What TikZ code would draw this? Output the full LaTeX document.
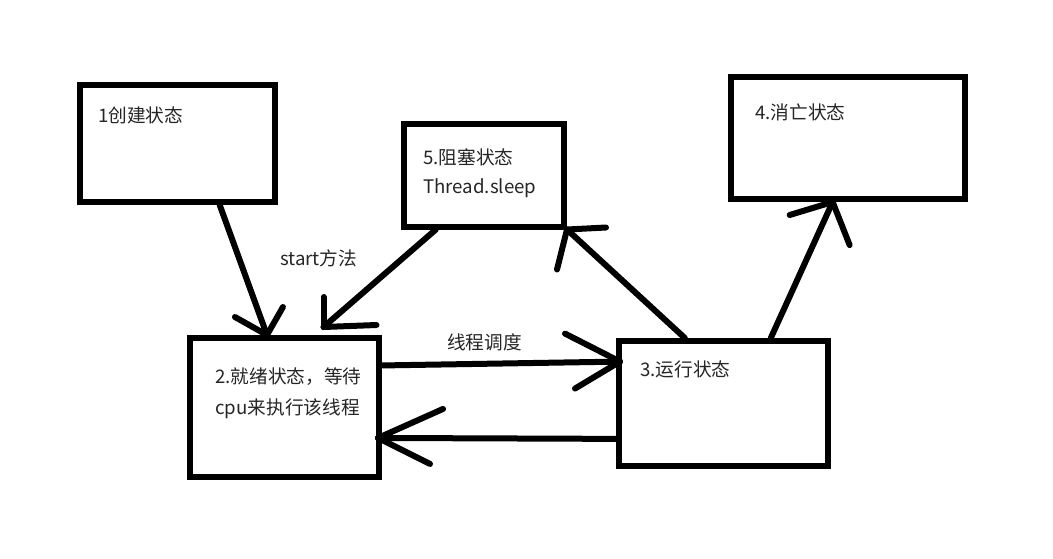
\documentclass[tikz,border=0pt]{standalone}
\usepackage{fontspec}
\setmainfont{Noto Sans CJK SC}
\usetikzlibrary{calc}
\begin{document}
\begin{tikzpicture}[x=0.75pt,y=-0.75pt,
  statebox/.style={draw=black,line width=4.5pt,inner sep=0pt,fill=white},
  conn/.style={draw=black,line width=4.5pt,line cap=round},
  lbl/.style={anchor=west,inner sep=0pt,text=black!85,font=\fontsize{14}{17}\selectfont}]
\useasboundingbox (0,0) rectangle (1053,558);
\fill[white] (0,0) rectangle (1053,558);
% boxes
\node[statebox,minimum width=195*0.75pt,minimum height=117*0.75pt] (b1) at (177.5,143.5) {};
\node[statebox,minimum width=160*0.75pt,minimum height=103*0.75pt] (b5) at (484,175) {};
\node[statebox,minimum width=234*0.75pt,minimum height=122*0.75pt] (b4) at (848,138) {};
\node[statebox,minimum width=189*0.75pt,minimum height=139*0.75pt] (b2) at (284.5,407.5) {};
\node[statebox,minimum width=209*0.75pt,minimum height=125*0.75pt] (b3) at (723.5,403.5) {};
% texts
\node[lbl] (l1) at (98,115) {1创建状态};
\node[lbl] (l5a) at (423,157) {5.阻塞状态};
\node[lbl] (l5b) at (423,188) {Thread.sleep};
\node[lbl] (l4) at (755,112) {4.消亡状态};
\node[lbl] (l2a) at (215,377) {2.就绪状态，等待};
\node[lbl] (l2b) at (215,409) {cpu来执行该线程};
\node[lbl] (l3) at (640,369) {3.运行状态};
\node[lbl] (ls) at (280,258) {start方法};
\node[lbl] (ld) at (447,342) {线程调度};
% connector ends
\coordinate (s1) at ($(b1.south west)!0.71!(b1.south east)$);
\coordinate (t12) at ($(b2.north west)!0.41!(b2.north east)$);
\coordinate (s5) at ($(b5.south west)!0.21!(b5.south east)$);
\coordinate (t52) at ($(b2.north west)!0.70!(b2.north east)+(0,-8)$);
\coordinate (s3a) at ($(b3.north west)!0.32!(b3.north east)$);
\coordinate (t35) at (b5.south east);
\coordinate (s3b) at ($(b3.north west)!0.72!(b3.north east)$);
\coordinate (t34) at ($(b4.south west)!0.436!(b4.south east)$);
\coordinate (s23) at ($(b2.north east)!0.21!(b2.south east)$);
\coordinate (t23) at ($(b3.north west)!0.18!(b3.south west)+(4,0)$);
\coordinate (s32) at ($(b3.north west)!0.77!(b3.south west)$);
\coordinate (t32) at ($(b2.north east)!0.71!(b2.south east)+(-4,0)$);
% connectors
\draw[conn] (s1) -- (t12);
\draw[conn] (t12) -- ++(-32,-18);
\draw[conn] (t12) -- ++(16,-28);
\draw[conn] (s5) -- (t52);
\draw[conn] (t52) -- ++(0,-30);
\draw[conn] (t52) -- ++(53,-2);
\draw[conn] (s3a) -- (t35);
\draw[conn] (t35) -- ++(39,-2);
\draw[conn] (t35) -- ++(-10,40);
\draw[conn] (s3b) -- (t34);
\draw[conn] (t34) -- ++(-43,13);
\draw[conn] (t34) -- ++(17,43);
\draw[conn] (s23) -- (t23);
\draw[conn] (t23) -- ++(-55,-28);
\draw[conn] (t23) -- ++(-45,27);
\draw[conn] (s32) -- (t32);
\draw[conn] (t32) -- ++(65,-29);
\draw[conn] (t32) -- ++(52,26);
\end{tikzpicture}
\end{document}
